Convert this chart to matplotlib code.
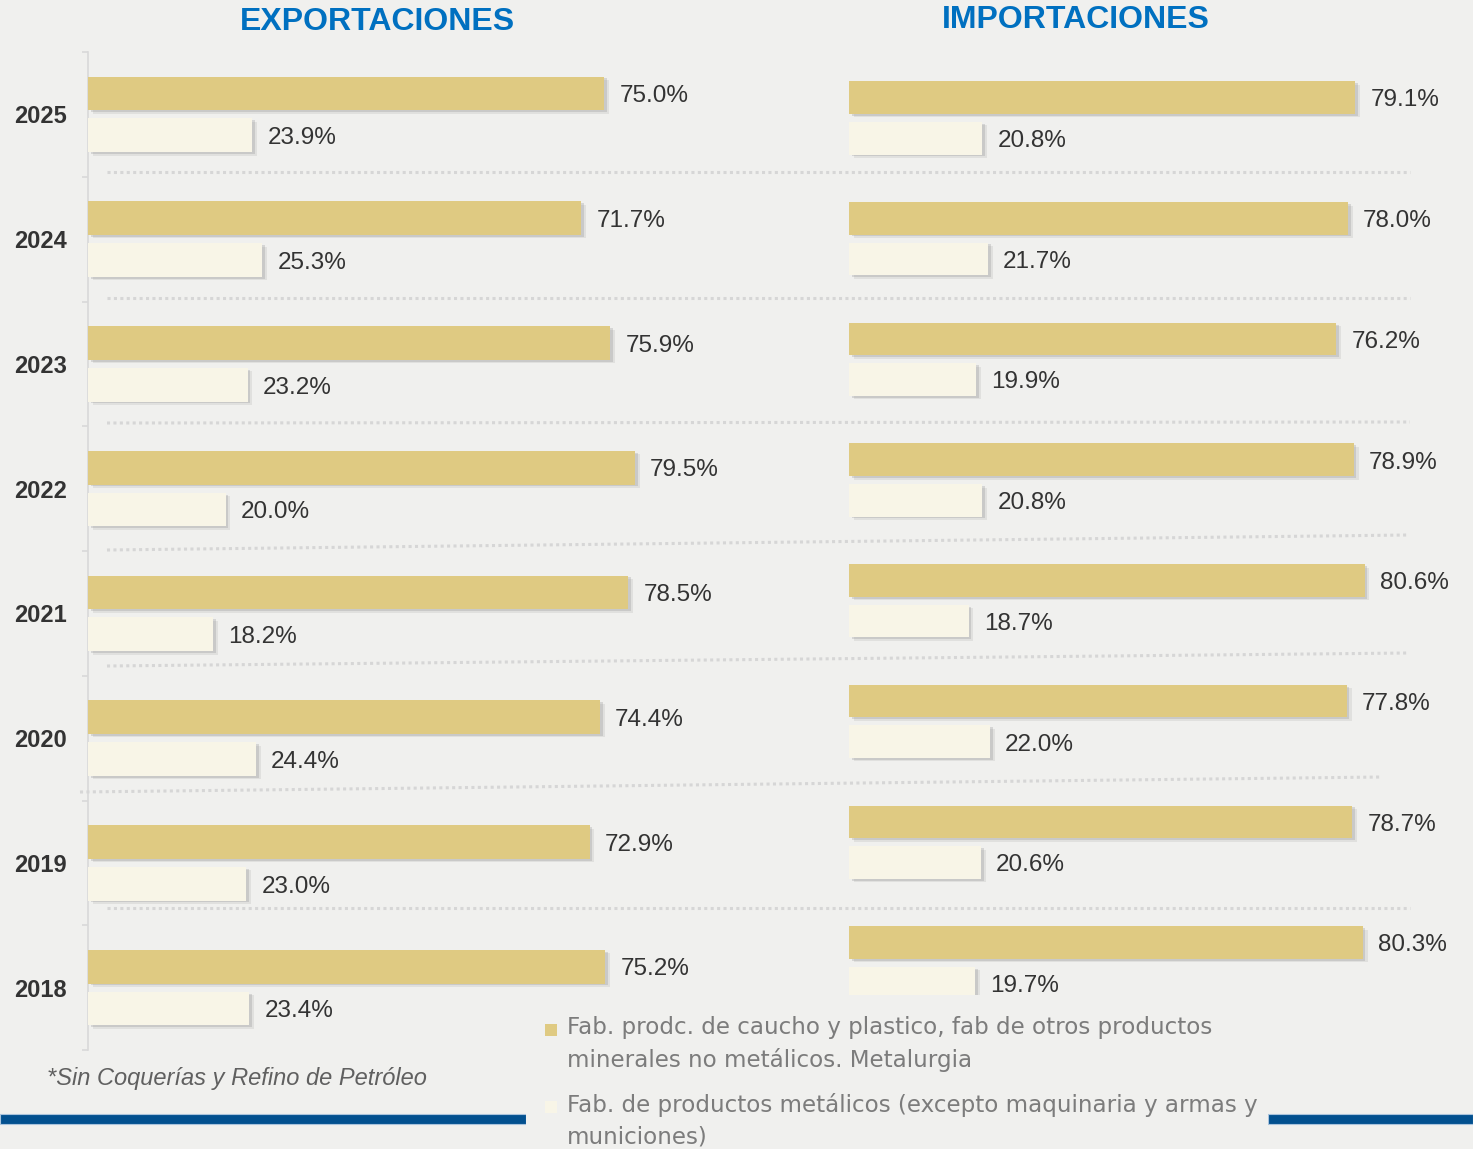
import numpy as np
import matplotlib.pyplot as plt
import matplotlib.patheffects as pe
from matplotlib.lines import Line2D
from matplotlib.patches import Rectangle

# data (top to bottom)
years = ['2025', '2024', '2023', '2022', '2021', '2020', '2019', '2018']
exp_caucho = [75.0, 71.7, 75.9, 79.5, 78.5, 74.4, 72.9, 75.2]
exp_metal = [23.9, 25.3, 23.2, 20.0, 18.2, 24.4, 23.0, 23.4]
imp_caucho = [79.1, 78.0, 76.2, 78.9, 80.6, 77.8, 78.7, 80.3]
imp_metal = [20.8, 21.7, 19.9, 20.8, 18.7, 22.0, 20.6, 19.7]

leg1 = "Fab. prodc. de caucho y plastico, fab de otros productos\nminerales no metálicos. Metalurgia"
leg2 = "Fab. de productos metálicos (excepto maquinaria y armas y\nmuniciones)"

BG = '#f0f0ee'
GOLD = '#dfca82'
CREAM = '#f8f5e7'
W, H = 1473, 1149

plt.rcParams['font.family'] = ['Liberation Sans', 'DejaVu Sans']

fig = plt.figure(figsize=(W / 100, H / 100), dpi=100, facecolor=BG)

def px(x0, y0, x1, y1):
    return [x0 / W, 1 - y1 / H, (x1 - x0) / W, (y1 - y0) / H]

shadow = [pe.SimplePatchShadow(offset=(3.5, -2.5), shadow_rgbFace='#888888', alpha=0.15),
          pe.SimplePatchShadow(offset=(2, -1.3), shadow_rgbFace='#888888', alpha=0.25),
          pe.Normal()]

def panel(ax, a, b, xmax):
    y = np.arange(len(years))
    off, h = 0.168, 0.27
    b1 = ax.barh(y - off, a, height=h, color=GOLD, zorder=3)
    b2 = ax.barh(y + off, b, height=h, color=CREAM, zorder=3)
    for bars, vals, ys in ((b1, a, y - off), (b2, b, y + off)):
        for p in bars:
            p.set_path_effects(shadow)
        for v, yy in zip(vals, ys):
            ax.annotate(f"{v:.1f}%", xy=(v, yy), xytext=(11, -2), textcoords='offset points',
                        va='center', ha='left', fontsize=17.5, color='#333333')
    ax.set_xlim(0, xmax)
    ax.set_ylim(len(years) - 0.5, -0.5)
    ax.set_facecolor('none')
    ax.set_xticks([])
    for s in ['top', 'right', 'bottom']:
        ax.spines[s].set_visible(False)
    return b1, b2

ax1 = fig.add_axes(px(88, 52, 88 + 688, 1050))
panel(ax1, exp_caucho, exp_metal, 100)
ax1.spines['left'].set_color('#d9d9d9')
ax1.spines['left'].set_linewidth(1.2)
ax1.set_yticks(range(len(years)))
ax1.set_yticklabels(years, fontsize=17, fontweight='bold', color='#333333')
ax1.tick_params(axis='y', which='major', length=0, pad=15)
ax1.set_yticks(np.arange(-0.5, len(years)), minor=True)
ax1.tick_params(axis='y', which='minor', length=4.5, color='#d9d9d9', width=1.2)

ax2 = fig.add_axes(px(849, 57.6, 849 + 607.7, 1023.2))
panel(ax2, imp_caucho, imp_metal, 95)
ax2.spines['left'].set_visible(False)
ax2.set_yticks([])

# titles
fig.text(377 / W, 1 - 22 / H, 'EXPORTACIONES', ha='center', va='center',
         fontsize=23, fontweight='bold', color='#0070c0')
fig.text(1076 / W, 1 - 20 / H, 'IMPORTACIONES', ha='center', va='center',
         fontsize=23, fontweight='bold', color='#0070c0')

# dotted separators
seps = [(107, 172, 1410, 172), (107, 298, 1410, 298), (107, 423, 1410, 422),
        (107, 550, 1408, 535), (107, 666, 1408, 653), (80, 792, 1382, 777),
        (107, 908, 1410, 908)]
for x0, y0, x1, y1 in seps:
    fig.add_artist(Line2D([x0 / W, x1 / W], [1 - y0 / H, 1 - y1 / H], transform=fig.transFigure,
                          color='#d6d6d6', lw=2.2, linestyle=(0, (1, 1.1)), zorder=1))

# bottom blue band
fig.add_artist(Rectangle((0, 1 - 1124 / H), 526 / W, 10 / H, transform=fig.transFigure,
                         facecolor='#02508f', edgecolor='#a9c3dc', lw=0.8, zorder=4))
fig.add_artist(Rectangle((1268 / W, 1 - 1124 / H), (W - 1268) / W, 10 / H, transform=fig.transFigure,
                         facecolor='#02508f', edgecolor='#a9c3dc', lw=0.8, zorder=4))

# legend box
fig.add_artist(Rectangle((526 / W, 0), (1268 - 526) / W, 1 - 995 / H, transform=fig.transFigure,
                         facecolor=BG, edgecolor='none', zorder=5))
fig.add_artist(Rectangle((545 / W, 1 - 1036 / H), 12 / W, 12 / H, transform=fig.transFigure,
                         facecolor=GOLD, edgecolor='none', zorder=6))
fig.add_artist(Rectangle((545 / W, 1 - 1113 / H), 12 / W, 12 / H, transform=fig.transFigure,
                         facecolor=CREAM, edgecolor='none', zorder=6))
fig.text(567 / W, 1 - 1016 / H, leg1, ha='left', va='top', fontsize=16.6, color='#7c7c7c',
         family='DejaVu Sans', linespacing=1.5, zorder=6)
fig.text(567 / W, 1 - 1093 / H, leg2, ha='left', va='top', fontsize=16.6, color='#7c7c7c',
         family='DejaVu Sans', linespacing=1.5, zorder=6)

# footnote
fig.text(47 / W, 1 - 1079 / H, '*Sin Coquerías y Refino de Petróleo', ha='left', va='center',
         fontsize=17, style='italic', color='#606060')

fig.savefig('out.png', dpi=100, facecolor=BG)
